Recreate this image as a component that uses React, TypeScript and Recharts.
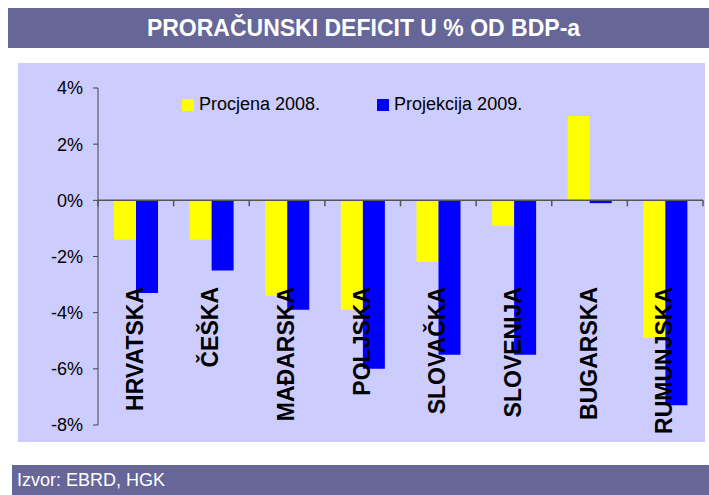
import React from 'react';
import { BarChart, Bar, XAxis, YAxis, ReferenceLine, Legend } from 'recharts';

const countries = ['HRVATSKA', 'ČEŠKA', 'MAĐARSKA', 'POLJSKA', 'SLOVAČKA', 'SLOVENIJA', 'BUGARSKA', 'RUMUNJSKA'];
const procjena2008 = [-1.4, -1.4, -3.4, -3.9, -2.2, -0.9, 3.0, -4.9];
const projekcija2009 = [-3.3, -2.5, -3.9, -6.0, -5.5, -5.5, -0.1, -7.3];
const yTicks = [-8, -6, -4, -2, 0, 2, 4];
const seriesNames = ['Procjena 2008.', 'Projekcija 2009.'];

const data = countries.map((c, i) => ({
  country: c,
  procjena: procjena2008[i],
  projekcija: projekcija2009[i],
}));

const FONT = 'Arial, "Liberation Sans", sans-serif';

// plot is 337px tall for -8..4, so the 0% line sits 8/12 of it above the x axis
const ZERO_UP = (337 * 8) / 12;

const renderCountryTick = (props: any) => {
  const { x, y, payload, width, visibleTicksCount, index } = props;
  const half = Number(width) / Number(visibleTicksCount) / 2;
  const y0 = y - ZERO_UP;
  const marks = [x - half];
  if (index === visibleTicksCount - 1) marks.push(x + half);
  return (
    <g>
      {/* category boundary ticks just below the 0% line */}
      {marks.map((mx) => (
        <line key={mx} x1={mx} x2={mx} y1={y0} y2={y0 + 6} stroke="#555" strokeWidth={1.5} />
      ))}
      <text
        transform={`translate(${x + 7}, ${y - 138}) rotate(-90)`}
        textAnchor="end"
        fontFamily={FONT}
        fontSize={23}
        fontWeight="bold"
        fill="#000"
      >
        {payload.value}
      </text>
    </g>
  );
};

const LegendBox = () => (
  <div style={{ display: 'flex', alignItems: 'center', fontFamily: FONT, fontSize: 18, color: '#000' }}>
    <span style={{ width: 12, height: 12, background: '#ffff00', display: 'inline-block', marginRight: 5 }} />
    <span style={{ marginRight: 57 }}>{seriesNames[0]}</span>
    <span style={{ width: 12, height: 12, background: '#0000ff', display: 'inline-block', marginRight: 5 }} />
    <span>{seriesNames[1]}</span>
  </div>
);

export default function App() {
  return (
    <div style={{ position: 'relative', width: 709, height: 495, background: '#fff', fontFamily: FONT, overflow: 'hidden' }}>
      <style>{'body{margin:0}'}</style>
      <div
        style={{
          position: 'absolute', left: 8, top: 8, right: 0, height: 40,
          background: '#666699', color: '#fff', fontWeight: 'bold', fontSize: 23,
          display: 'flex', alignItems: 'center', justifyContent: 'center', paddingLeft: 10,
        }}
      >
        PRORAČUNSKI DEFICIT U % OD BDP-a
      </div>

      <div style={{ position: 'absolute', left: 18, top: 63, width: 687, height: 379, background: '#ccccff' }}>
        <BarChart width={687} height={379} data={data} margin={{ top: 25, right: 2, bottom: 7, left: 0 }} barGap={0}>
          <YAxis
            domain={[-8, 4]}
            ticks={yTicks}
            interval={0}
            width={80}
            tickFormatter={(v: number) => `${v}%`}
            tick={{ fontSize: 18, fill: '#000', fontFamily: FONT }}
            tickSize={5}
            tickMargin={10}
            axisLine={{ stroke: '#444' }}
            tickLine={{ stroke: '#444' }}
          />
          <Legend
            verticalAlign="middle"
            align="center"
            layout="horizontal"
            wrapperStyle={{ left: 164, top: 31, width: 'auto' }}
            content={() => <LegendBox />}
          />
          <Bar dataKey="procjena" name={seriesNames[0]} fill="#ffff00" barSize={22} isAnimationActive={false} />
          <Bar dataKey="projekcija" name={seriesNames[1]} fill="#0000ff" barSize={22} isAnimationActive={false} />
          <ReferenceLine y={0} stroke="#555" strokeWidth={1.5} />
          <XAxis
            dataKey="country"
            height={10}
            interval={0}
            axisLine={false}
            tickLine={false}
            tickSize={0}
            tickMargin={0}
            tick={renderCountryTick}
          />
        </BarChart>
      </div>

      <div
        style={{
          position: 'absolute', left: 12, top: 465, right: 0, height: 30,
          background: '#666699', color: '#fff', fontSize: 18, lineHeight: '30px', paddingLeft: 5,
        }}
      >
        Izvor: EBRD, HGK
      </div>
    </div>
  );
}
